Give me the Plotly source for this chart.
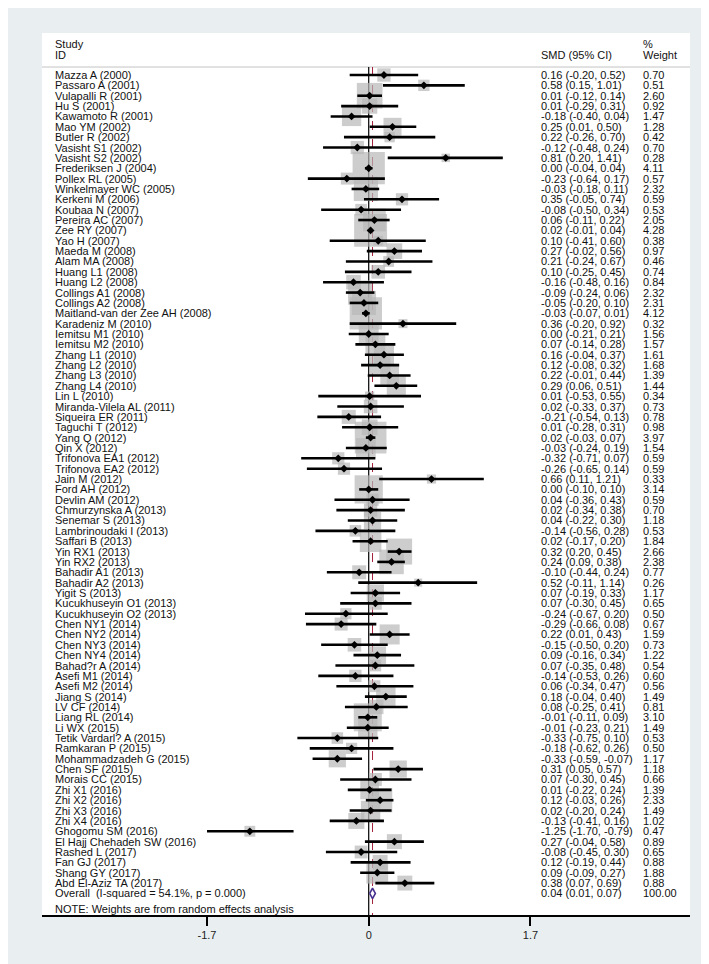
import plotly.graph_objects as go
import numpy as np

studies = ["Mazza A (2000)", "Passaro A (2001)", "Vulapalli R (2001)", "Hu S (2001)", "Kawamoto R (2001)",
           "Mao YM (2002)", "Butler R (2002)", "Vasisht S1 (2002)", "Vasisht S2 (2002)", "Frederiksen J (2004)",
           "Pollex RL (2005)", "Winkelmayer WC (2005)", "Kerkeni M (2006)", "Koubaa N (2007)", "Pereira AC (2007)",
           "Zee RY (2007)", "Yao H (2007)", "Maeda M (2008)", "Alam MA (2008)", "Huang L1 (2008)",
           "Huang L2 (2008)", "Collings A1 (2008)", "Collings A2 (2008)", "Maitland-van der Zee AH (2008)",
           "Karadeniz M (2010)", "Iemitsu M1 (2010)", "Iemitsu M2 (2010)", "Zhang L1 (2010)", "Zhang L2 (2010)",
           "Zhang L3 (2010)", "Zhang L4 (2010)", "Lin L (2010)", "Miranda-Vilela AL (2011)", "Siqueira ER (2011)",
           "Taguchi T (2012)", "Yang Q (2012)", "Qin X (2012)", "Trifonova EA1 (2012)", "Trifonova EA2 (2012)",
           "Jain M (2012)", "Ford AH (2012)", "Devlin AM (2012)", "Chmurzynska A (2013)", "Senemar S (2013)",
           "Lambrinoudaki I (2013)", "Saffari B (2013)", "Yin RX1 (2013)", "Yin RX2 (2013)", "Bahadir A1 (2013)",
           "Bahadir A2 (2013)", "Yigit S (2013)", "Kucukhuseyin O1 (2013)", "Kucukhuseyin O2 (2013)",
           "Chen NY1 (2014)", "Chen NY2 (2014)", "Chen NY3 (2014)", "Chen NY4 (2014)", "Bahad?r A (2014)",
           "Asefi M1 (2014)", "Asefi M2 (2014)", "Jiang S (2014)", "LV CF (2014)", "Liang RL (2014)",
           "Li WX (2015)", "Tetik Vardarl? A (2015)", "Ramkaran P (2015)", "Mohammadzadeh G (2015)",
           "Chen SF (2015)", "Morais CC (2015)", "Zhi X1 (2016)", "Zhi X2 (2016)", "Zhi X3 (2016)",
           "Zhi X4 (2016)", "Ghogomu SM (2016)", "El Hajj Chehadeh SW (2016)", "Rashed L (2017)",
           "Fan GJ (2017)", "Shang GY (2017)", "Abd El-Aziz TA (2017)"]

smd = [0.16, 0.58, 0.01, 0.01, -0.18, 0.25, 0.22, -0.12, 0.81, 0.00,
       -0.23, -0.03, 0.35, -0.08, 0.06, 0.02, 0.10, 0.27, 0.21, 0.10,
       -0.16, -0.09, -0.05, -0.03, 0.36, 0.00, 0.07, 0.16, 0.12, 0.22,
       0.29, 0.01, 0.02, -0.21, 0.01, 0.02, -0.03, -0.32, -0.26, 0.66,
       0.00, 0.04, 0.02, 0.04, -0.14, 0.02, 0.32, 0.24, -0.10, 0.52,
       0.07, 0.07, -0.24, -0.29, 0.22, -0.15, 0.09, 0.07, -0.14, 0.06,
       0.18, 0.08, -0.01, -0.01, -0.33, -0.18, -0.33, 0.31, 0.07, 0.01,
       0.12, 0.02, -0.13, -1.25, 0.27, -0.08, 0.12, 0.09, 0.38]

ci_low = [-0.20, 0.15, -0.12, -0.29, -0.40, 0.01, -0.26, -0.48, 0.20, -0.04,
          -0.64, -0.18, -0.05, -0.50, -0.11, -0.01, -0.41, -0.02, -0.24, -0.25,
          -0.48, -0.24, -0.20, -0.07, -0.20, -0.21, -0.14, -0.04, -0.08, -0.01,
          0.06, -0.53, -0.33, -0.54, -0.28, -0.03, -0.24, -0.71, -0.65, 0.11,
          -0.10, -0.36, -0.34, -0.22, -0.56, -0.17, 0.20, 0.09, -0.44, -0.11,
          -0.19, -0.30, -0.67, -0.66, 0.01, -0.50, -0.16, -0.35, -0.53, -0.34,
          -0.04, -0.25, -0.11, -0.23, -0.75, -0.62, -0.59, 0.05, -0.30, -0.22,
          -0.03, -0.20, -0.41, -1.70, -0.04, -0.45, -0.19, -0.09, 0.07]

ci_high = [0.52, 1.01, 0.14, 0.31, 0.04, 0.50, 0.70, 0.24, 1.41, 0.04,
           0.17, 0.11, 0.74, 0.34, 0.22, 0.04, 0.60, 0.56, 0.67, 0.45,
           0.16, 0.06, 0.10, 0.01, 0.92, 0.21, 0.28, 0.37, 0.32, 0.44,
           0.51, 0.55, 0.37, 0.13, 0.31, 0.07, 0.19, 0.07, 0.14, 1.21,
           0.10, 0.43, 0.38, 0.30, 0.28, 0.20, 0.45, 0.38, 0.24, 1.14,
           0.33, 0.45, 0.20, 0.08, 0.43, 0.20, 0.34, 0.48, 0.26, 0.47,
           0.40, 0.41, 0.09, 0.21, 0.10, 0.26, -0.07, 0.57, 0.45, 0.24,
           0.26, 0.24, 0.16, -0.79, 0.58, 0.30, 0.44, 0.27, 0.69]

weights = [0.70, 0.51, 2.60, 0.92, 1.47, 1.28, 0.42, 0.70, 0.28, 4.11,
           0.57, 2.32, 0.59, 0.53, 2.05, 4.28, 0.38, 0.97, 0.46, 0.74,
           0.84, 2.32, 2.31, 4.12, 0.32, 1.56, 1.57, 1.61, 1.68, 1.39,
           1.44, 0.34, 0.73, 0.78, 0.98, 3.97, 1.54, 0.59, 0.59, 0.33,
           3.14, 0.59, 0.70, 1.18, 0.53, 1.84, 2.66, 2.38, 0.77, 0.26,
           1.17, 0.65, 0.50, 0.67, 1.59, 0.73, 1.22, 0.54, 0.60, 0.56,
           1.49, 0.81, 3.10, 1.49, 0.53, 0.50, 1.17, 1.18, 0.66, 1.39,
           2.33, 1.49, 1.02, 0.47, 0.89, 0.65, 0.88, 1.88, 0.88]

overall_label = "Overall\u00a0\u00a0(I-squared = 54.1%, p = 0.000)"
overall_smd, overall_low, overall_high, overall_weight = 0.04, 0.01, 0.07, 100.00
tick_vals = [-1.7, 0, 1.7]
tick_text = ["-1.7", "0", "1.7"]

FONT = "Liberation Sans, Arial, sans-serif"
n = len(studies)
rows = np.arange(n)
overall_row = n
note_row = n + 1.5
head_line = -0.77

# pixel layout: rows start at y=67, 10.36 px apart, white panel 25..907
row_px = 10.36
y_top = -(67 - 25) / row_px
y_bot = (907 - 67) / row_px

fig = go.Figure()

# Reference lines (below the squares)
fig.add_shape(type="line", x0=0, x1=0, y0=head_line, y1=y_bot, xref="x", yref="y",
              line=dict(color="black", width=1.2), layer="below")
fig.add_shape(type="line", x0=overall_smd, x1=overall_smd, y0=head_line, y1=y_bot, xref="x", yref="y",
              line=dict(color="#a3203a", width=1, dash="dash"), layer="below")
fig.add_shape(type="line", x0=0, x1=1, y0=head_line, y1=head_line, xref="paper", yref="y",
              line=dict(color="#c4c4c4", width=1), layer="below")

# Weight boxes
fig.add_scatter(x=smd, y=rows, mode="markers", hoverinfo="skip", showlegend=False,
                marker=dict(symbol="square", size=15.9 * np.sqrt(weights), color="#b8b8b8",
                            line=dict(width=0)))

# CI lines
cx, cy = [], []
for i in range(n):
    cx += [ci_low[i], ci_high[i], None]
    cy += [i, i, None]
fig.add_scatter(x=cx, y=cy, mode="lines", line=dict(color="black", width=2.6), hoverinfo="skip", showlegend=False)

# Point estimates
fig.add_scatter(x=smd, y=rows, mode="markers", showlegend=False,
                marker=dict(symbol="diamond", size=6, color="black"))

# Overall diamond
fig.add_scatter(x=[overall_low, overall_smd, overall_high, overall_smd, overall_low],
                y=[overall_row, overall_row - 0.5, overall_row, overall_row + 0.5, overall_row],
                mode="lines", line=dict(color="#47308f", width=1.6), fill="toself", fillcolor="white",
                showlegend=False)

# Text columns
ann = []
def txt(x, y, s):
    ann.append(dict(x=x, y=y, xref="paper", yref="y", text=s, showarrow=False, xanchor="left",
                    yanchor="middle", font=dict(family=FONT, size=11, color="#111111")))

x_name, x_ci, x_w = (45 - 34) / 648, (531 - 34) / 648, (633 - 34) / 648
txt(x_name, head_line - 2.2, "Study")
txt(x_name, head_line - 1.15, "ID")
txt(x_ci, head_line - 1.15, "SMD (95% CI)")
txt(x_w, head_line - 2.2, "%")
txt(x_w, head_line - 1.15, "Weight")
for i in range(n):
    txt(x_name, i, studies[i])
    txt(x_ci, i, f"{smd[i]:.2f} ({ci_low[i]:.2f}, {ci_high[i]:.2f})")
    txt(x_w, i, f"{weights[i]:.2f}")
txt(x_name, overall_row, overall_label)
txt(x_ci, overall_row, f"{overall_smd:.2f} ({overall_low:.2f}, {overall_high:.2f})")
txt(x_w, overall_row, f"{overall_weight:.2f}")
txt(x_name, note_row, "NOTE: Weights are from random effects analysis")

fig.update_layout(
    width=709, height=964,
    margin=dict(l=34, r=27, t=25, b=57),
    paper_bgcolor="#e9eff1", plot_bgcolor="white",
    annotations=ann, showlegend=False,
    xaxis=dict(range=[-3.435, 3.378], showgrid=False, zeroline=False, showline=True, linecolor="black",
               linewidth=1.5, ticks="outside", ticklen=9, tickwidth=2, tickcolor="black",
               tickvals=tick_vals, ticktext=tick_text, tickfont=dict(family=FONT, size=11, color="#222222")),
    yaxis=dict(range=[y_bot, y_top], visible=False, showgrid=False, zeroline=False),
)

fig.write_html("out.html")
